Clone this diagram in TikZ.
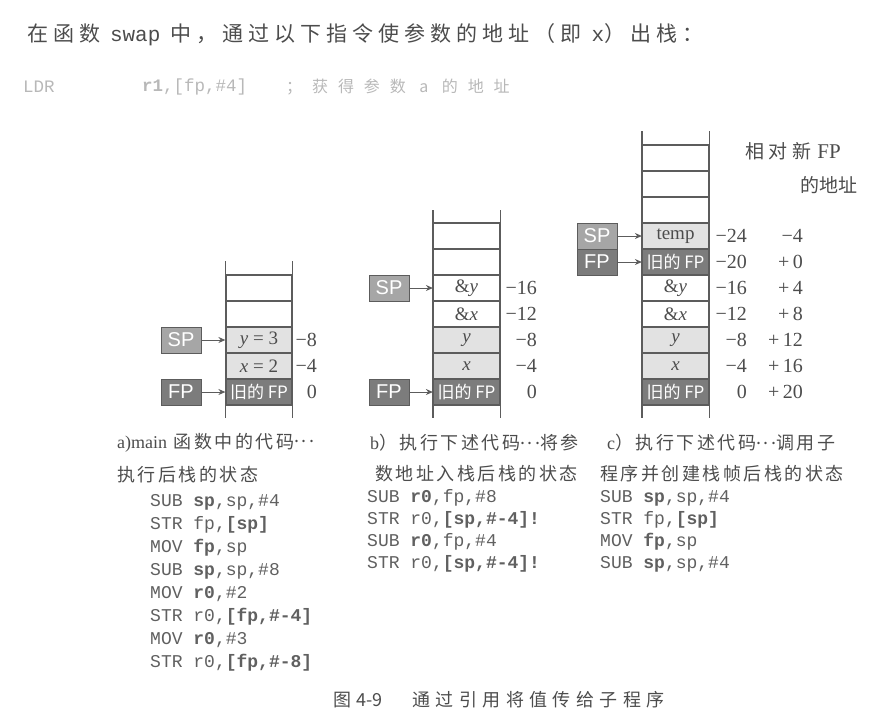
\documentclass[tikz,border=0pt]{standalone}
\usepackage{fontspec}
\setmainfont{Liberation Serif}
\setsansfont{Liberation Sans}
\setmonofont{Liberation Mono}
\newfontfamily\cjk[LetterSpace=14]{Noto Sans CJK SC}
\newfontfamily\cjkhead[LetterSpace=24]{Noto Sans CJK SC}
\newfontfamily\cjkwide[LetterSpace=30]{Noto Sans CJK SC}
\newfontfamily\cjkloose[LetterSpace=62]{Noto Sans CJK SC}
\newfontfamily\cjktight{Noto Sans CJK SC}
\newcommand{\middots}{\raisebox{0.32em}{...}}
\usetikzlibrary{arrows.meta}

\definecolor{linegray}{HTML}{5C5C5C}
\definecolor{txtgray}{HTML}{4C4C4C}
\definecolor{codegray}{HTML}{606060}
\definecolor{palegray}{HTML}{B8B8B8}
\definecolor{darkfill}{HTML}{7C7C7C}
\definecolor{midfill}{HTML}{A6A6A6}
\definecolor{lightfill}{HTML}{E2E2E2}

\tikzset{
  cell/.style={draw=linegray,line width=1.2pt,fill=white,minimum width=66pt,minimum height=26pt,
    inner sep=0pt,text=txtgray,font=\fontsize{19}{19}\selectfont},
  valcell/.style={cell,fill=lightfill},
  oldcell/.style={cell,fill=darkfill,text=white,font=\cjktight\fontsize{17}{17}\selectfont},
  reg/.style={draw=linegray,line width=0.8pt,minimum width=40pt,minimum height=26pt,inner sep=0pt,
    text=white,font=\sffamily\fontsize{20}{20}\selectfont},
  stackline/.style={draw=linegray,line width=1.2pt},
  ptr/.style={draw=linegray,line width=1pt,-{Stealth[length=7pt,width=6pt]}},
  off/.style={anchor=east,inner sep=0pt,text=txtgray,font=\fontsize{20}{20}\selectfont},
  code/.style={anchor=west,inner sep=0pt,text=codegray,font=\ttfamily\fontsize{18}{18}\selectfont},
  capt/.style={anchor=west,inner sep=0pt,text=txtgray,font=\cjk\fontsize{18}{18}\selectfont}
}

\begin{document}
\begin{tikzpicture}[x=1pt,y=-1pt]
  \useasboundingbox (0,0) rectangle (872,720);

  % heading text
  \node[anchor=west,inner sep=0pt,text=txtgray,font=\cjkhead\fontsize{21}{21}\selectfont] (head) at (27,35)
    {在函数 {\ttfamily swap} 中，通过以下指令使参数的地址（即 {\ttfamily x}）出栈：};
  \node[code,text=palegray,font=\ttfamily\fontsize{17.5}{17.5}\selectfont] (ldr) at (23,87) {LDR};
  \node[code,text=palegray,font=\ttfamily\fontsize{17.5}{17.5}\selectfont] (ldrarg) at (142,87) {\textbf{r1},[fp,\#4]};
  \node[anchor=west,inner sep=0pt,text=palegray,font=\cjkloose\fontsize{16}{16}\selectfont] (ldrcom) at (286,87)
    {；获得参数 a 的地址};

  % a) stack after main
  \node[cell] (ae2) at (259,288) {};
  \node[cell] (ae1) at (259,314) {};
  \node[valcell] (ay) at (259,340) {\textit{y} = 3};
  \node[valcell] (ax) at (259,366) {\textit{x} = 2};
  \node[oldcell] (afp) at (259,392) {旧的 FP};
  \draw[stackline] ([yshift=13pt]ae2.north west) -- ([yshift=-12pt]afp.south west);
  \draw[stackline] ([yshift=13pt]ae2.north east) -- ([yshift=-12pt]afp.south east);
  \node[reg,fill=midfill] (asp) at (181,340) {SP};
  \node[reg,fill=darkfill] (afpr) at (181,392) {FP};
  \draw[ptr] (asp) -- (ay);
  \draw[ptr] (afpr) -- (afp);
  \foreach \v/\y in {−8/340,−4/366,0/392} {
    \node[off] (aoff\y) at (317,\y) {\v};
  }

  % b) stack after pushing addresses
  \node[cell] (be2) at (466.5,236) {};
  \node[cell] (be1) at (466.5,262) {};
  \node[cell] (bay) at (466.5,288) {\&\textit{y}};
  \node[cell] (bax) at (466.5,314) {\&\textit{x}};
  \node[valcell] (by) at (466.5,340) {\textit{y}};
  \node[valcell] (bx) at (466.5,366) {\textit{x}};
  \node[oldcell] (bfp) at (466.5,392) {旧的 FP};
  \draw[stackline] ([yshift=12pt]be2.north west) -- ([yshift=-12pt]bfp.south west);
  \draw[stackline] ([yshift=12pt]be2.north east) -- ([yshift=-12pt]bfp.south east);
  \node[reg,fill=midfill] (bsp) at (389,288) {SP};
  \node[reg,fill=darkfill] (bfpr) at (389,392) {FP};
  \draw[ptr] (bsp) -- (bay);
  \draw[ptr] (bfpr) -- (bfp);
  \foreach \v/\y in {−16/288,−12/314,−8/340,−4/366,0/392} {
    \node[off] (boff\y) at (537,\y) {\v};
  }

  % c) stack after the call
  \node[cell] (ce3) at (675.5,158) {};
  \node[cell] (ce2) at (675.5,184) {};
  \node[cell] (ce1) at (675.5,210) {};
  \node[valcell] (ctemp) at (675.5,236) {temp};
  \node[oldcell] (cnfp) at (675.5,262) {旧的 FP};
  \node[cell] (cay) at (675.5,288) {\&\textit{y}};
  \node[cell] (cax) at (675.5,314) {\&\textit{x}};
  \node[valcell] (cy) at (675.5,340) {\textit{y}};
  \node[valcell] (cx) at (675.5,366) {\textit{x}};
  \node[oldcell] (cfp) at (675.5,392) {旧的 FP};
  \draw[stackline] ([yshift=13pt]ce3.north west) -- ([yshift=-12pt]cfp.south west);
  \draw[stackline] ([yshift=13pt]ce3.north east) -- ([yshift=-12pt]cfp.south east);
  \node[reg,fill=midfill] (csp) at (597,236) {SP};
  \node[reg,fill=darkfill] (cfpr) at (597,262) {FP};
  \draw[ptr] (csp) -- (ctemp);
  \draw[ptr] (cfpr) -- (cnfp);
  \foreach \v/\w/\y in {−24/−4/236,−20/+\,0/262,−16/+\,4/288,−12/+\,8/314,−8/+\,12/340,−4/+\,16/366,0/+\,20/392} {
    \node[off] (coff\y) at (747,\y) {\v};
    \node[off] (cnew\y) at (803,\y) {\w};
  }
  \node[capt,font=\cjkhead\fontsize{19}{19}\selectfont] (newhead) at (745,151)
    {相对新\hspace{6pt}{\rmfamily\fontsize{21}{21}\selectfont FP}};
  \node[capt,font=\cjktight\fontsize{19}{19}\selectfont,anchor=center] (newhead2) at (829,185) {的地址};

  % captions and code
  \node[capt] (acap1) at (117,443) {{\rmfamily a)main} 函数中的代码\middots};
  \node[capt] (acap2) at (117,475) {执行后栈的状态};
  \foreach \t [count=\i] in {{SUB \textbf{sp},sp,\#4},{STR fp,\textbf{[sp]}},{MOV \textbf{fp},sp},
      {SUB \textbf{sp},sp,\#8},{MOV \textbf{r0},\#2},{STR r0,\textbf{[fp,\#-4]}},
      {MOV \textbf{r0},\#3},{STR r0,\textbf{[fp,\#-8]}}} {
    \node[code] (acode\i) at (150,479+23*\i) {\t};
  }

  \node[capt] (bcap1) at (370,443) {{\rmfamily b}）执行下述代码\middots 将参};
  \node[capt] (bcap2) at (375,474) {数地址入栈后栈的状态};
  \foreach \t [count=\i] in {{SUB \textbf{r0},fp,\#8},{STR r0,\textbf{[sp,\#-4]!}},
      {SUB \textbf{r0},fp,\#4},{STR r0,\textbf{[sp,\#-4]!}}} {
    \node[code] (bcode\i) at (367,476+22*\i) {\t};
  }

  \node[capt] (ccap1) at (607,443) {{\rmfamily c}）执行下述代码\middots 调用子};
  \node[capt] (ccap2) at (600,474) {程序并创建栈帧后栈的状态};
  \foreach \t [count=\i] in {{SUB \textbf{sp},sp,\#4},{STR fp,\textbf{[sp]}},{MOV \textbf{fp},sp},
      {SUB \textbf{sp},sp,\#4}} {
    \node[code] (ccode\i) at (600,476+22*\i) {\t};
  }

  % figure caption
  \node[anchor=west,inner sep=0pt,text=txtgray,font=\cjktight\fontsize{18}{18}\selectfont] (figcap) at (333,700)
    {图\hspace{5pt}4-9\hspace{30pt}{\cjkwide 通过引用将值传给子程序}};
\end{tikzpicture}
\end{document}
